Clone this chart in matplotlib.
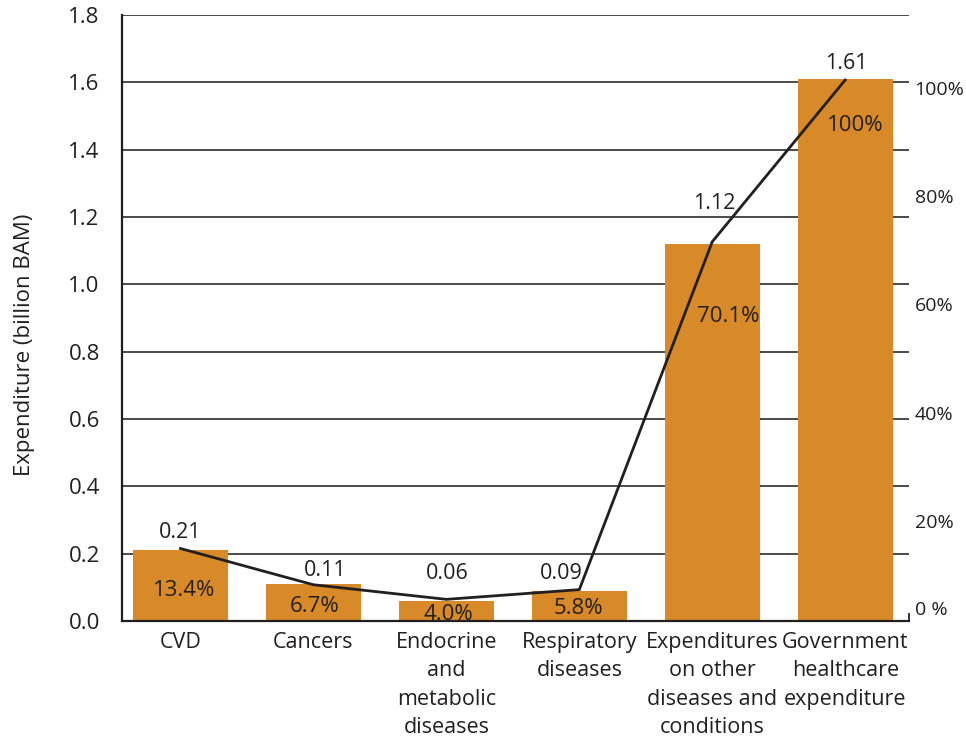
import matplotlib
matplotlib.use("Agg")
import matplotlib.pyplot as plt
import matplotlib.transforms as mtransforms

# Data
categories = ["CVD", "Cancers", "Endocrine\nand\nmetabolic\ndiseases",
              "Respiratory\ndiseases", "Expenditures\non other\ndiseases and\nconditions",
              "Government\nhealthcare\nexpenditure"]
expenditure = [0.21, 0.11, 0.06, 0.09, 1.12, 1.61]          # billion BAM
share_pct = [13.4, 6.7, 4.0, 5.8, 70.1, 100.0]              # % of government expenditure
value_labels = ["0.21", "0.11", "0.06", "0.09", "1.12", "1.61"]
share_labels = ["13.4%", "6.7%", "4.0%", "5.8%", "70.1%", "100%"]
left_ticks = [0.0, 0.2, 0.4, 0.6, 0.8, 1.0, 1.2, 1.4, 1.6, 1.8]
right_ticks = [0, 20, 40, 60, 80, 100]
right_tick_labels = ["0 %", "20%", "40%", "60%", "80%", "100%"]

# Label offsets in pixels (dx, dy) relative to the bar top
value_offsets = [(0, 18), (12, 13), (1, 27), (-18, 17), (2, 40), (1, 15)]
share_offsets = [(4, -40), (1, -23), (2, -14), (-1, -18), (16, -73), (10, -47)]

FONT = ["Open Sans", "DejaVu Sans"]
plt.rcParams["font.family"] = FONT

bar_color = "#D88A29"
line_color = "#231F20"
grid_color = "#3C3C3C"
text_color = "#231F20"

fig = plt.figure(figsize=(9.66, 7.38), dpi=100)
ax = fig.add_axes([122 / 966, 1 - 621 / 738, (909 - 122) / 966, (621 - 15) / 738])

x = list(range(len(categories)))
ax.set_xlim(-0.44, 5.48)
ax.set_ylim(0, 1.8)
ax.set_yticks(left_ticks)
ax.set_yticklabels([f"{t:.1f}" for t in left_ticks], fontsize=16, color=text_color)
ax.yaxis.grid(True, color=grid_color, linewidth=1.3)
ax.set_axisbelow(True)
ax.tick_params(axis="y", length=0, pad=16)
ax.tick_params(axis="x", length=0, pad=8)
ax.set_xticks(x)
ax.set_xticklabels(categories, fontsize=15.5, color=text_color, linespacing=1.46, va="top")

for side in ["top", "right"]:
    ax.spines[side].set_visible(False)
for side in ["left", "bottom"]:
    ax.spines[side].set_color(line_color)
    ax.spines[side].set_linewidth(1.6)

ax.set_ylabel("Expenditure (billion BAM)", fontsize=16, color=text_color)
ax.yaxis.set_label_coords(-0.110, 0.455)

ax.bar(x, expenditure, width=0.714, color=bar_color, zorder=2)

# Secondary axis for the share of government expenditure
ax2 = ax.twinx()
ax2.set_ylim(0, 100 * 1.8 / 1.607)
ax2.set_yticks(right_ticks)
ax2.set_yticklabels(right_tick_labels, fontsize=14, color=text_color)
ax2.tick_params(axis="y", length=0, pad=4)
for side in ["top", "right", "left", "bottom"]:
    ax2.spines[side].set_visible(False)
for i, lab in enumerate(ax2.get_yticklabels()):
    dy = 13 if i == 0 else -8
    lab.set_transform(lab.get_transform() +
                      mtransforms.ScaledTranslation(0, dy / 100, fig.dpi_scale_trans))

ax2.plot(x, share_pct, color=line_color, linewidth=2.0, zorder=3,
         solid_joinstyle="miter")

# Value labels above bars and share labels inside bars
for i in x:
    ax.annotate(value_labels[i], (i, expenditure[i]), xytext=value_offsets[i],
                textcoords="offset pixels", ha="center", va="center",
                fontsize=15.5, color=text_color, zorder=5)
    ax.annotate(share_labels[i], (i, expenditure[i]), xytext=share_offsets[i],
                textcoords="offset pixels", ha="center", va="center",
                fontsize=16, color=text_color, zorder=5)

# small end tick at the lower right corner
ax.plot([1, 1], [0, 0.012], transform=ax.transAxes,
        color=line_color, linewidth=1.3, clip_on=False)

fig.savefig("out.png", dpi=100)
